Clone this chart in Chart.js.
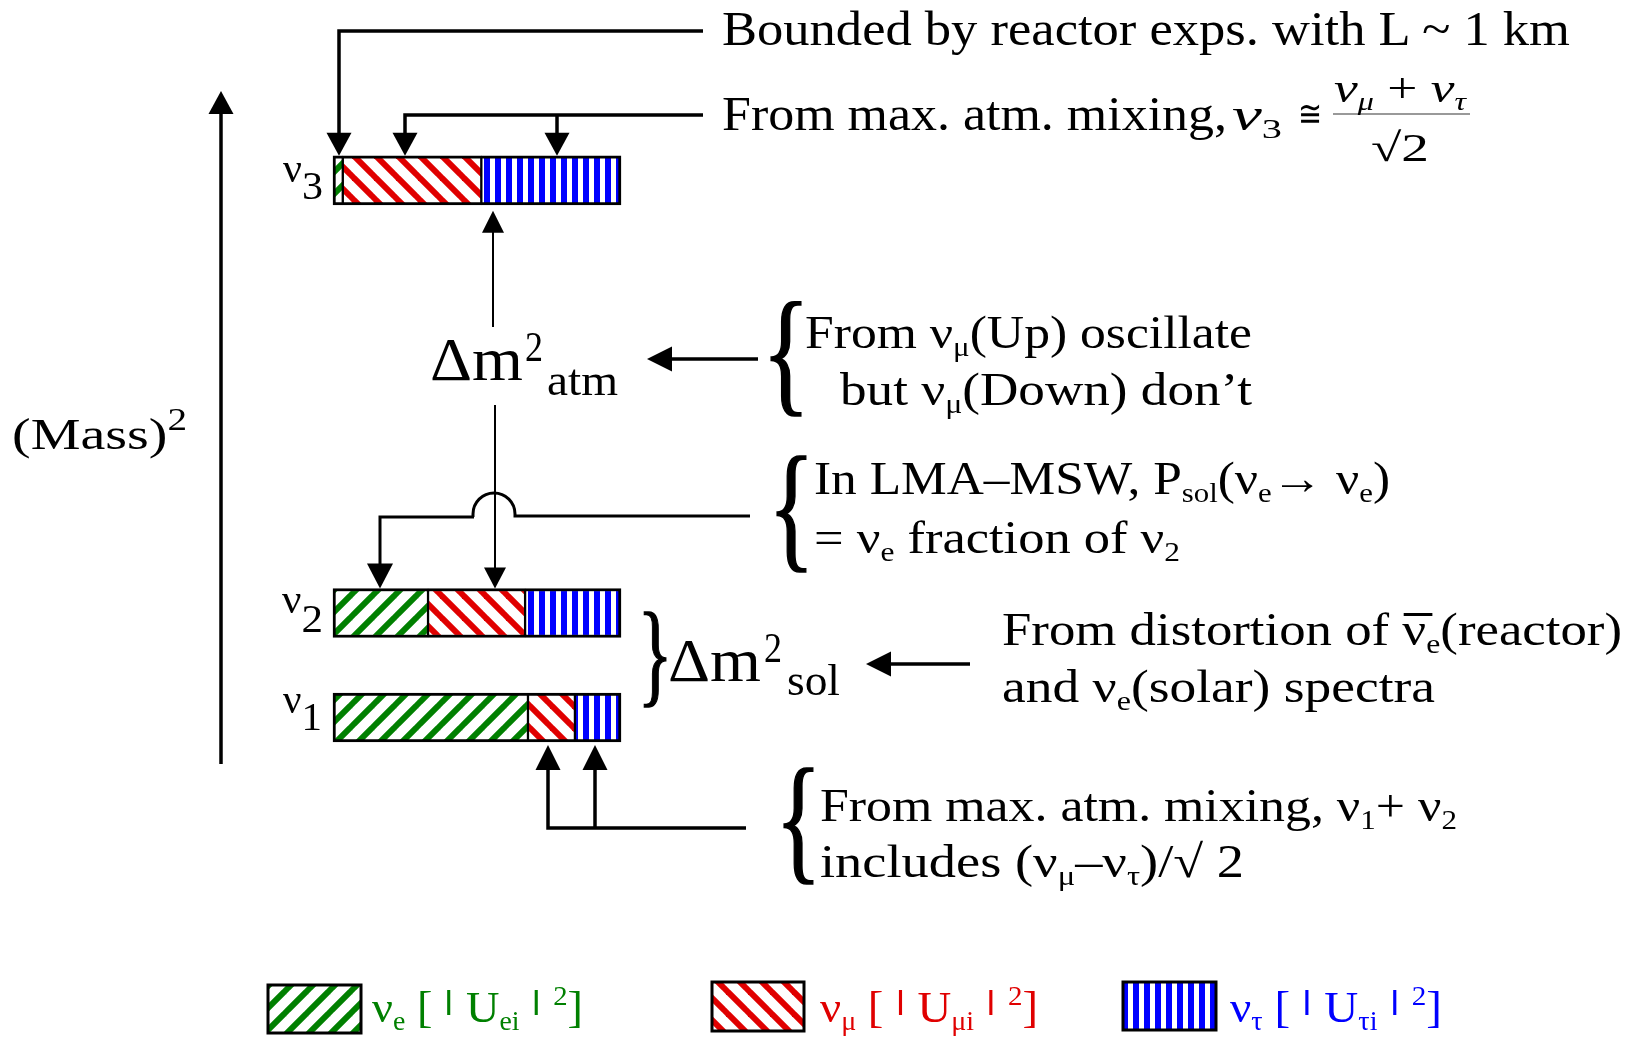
<!DOCTYPE html>
<html>
<head>
<meta charset="utf-8">
<script src="https://cdn.jsdelivr.net/npm/chart.js@4"></script>
<style>
  body { margin: 0; background: #fff; }
  #wrap { position: relative; width: 1630px; height: 1040px; overflow: hidden; }
  #chart { position: absolute; left: 0; top: 0; }
  .t { position: absolute; left: 0; top: 0; white-space: nowrap; line-height: 1;
       font-family: "Liberation Serif", serif; color: #000; transform-origin: 0 0; }
  .s { font-size: 0.6em; position: relative; top: 0.3em; }
  .p { font-size: 0.62em; position: relative; top: -0.62em; }
  .vb { display: inline-block; width: 3px; height: 0.56em; vertical-align: 0.16em;
        background: currentColor; margin: 0 0.08em; }
  .i { font-style: italic; }
  .ov { position: relative; }
  .ov::before { content: ''; position: absolute; left: 0.02em; right: -0.12em; top: 0.2em;
                border-top: 3px solid #000; }
  .bl { display: inline-block; width: 0; height: 0; }
  .g { color: #008000; } .r { color: #e00000; } .b { color: #0000ff; }
</style>
</head>
<body>
<div id="wrap">
  <canvas id="chart" width="1630" height="1040"></canvas>

  <!-- top notes -->
  <div class="t" data-x="722" data-b="45" data-w="848" style="font-size:48px">Bounded by reactor exps. with L ~ 1 km</div>
  <div class="t" data-x="722" data-b="130" data-w="505" style="font-size:48px">From max. atm. mixing,</div>
  <div class="t i" data-x="1232" data-b="130" data-w="50" style="font-size:46px">ν<span class="s" style="font-style:normal">3</span></div>
  <div class="t" data-x="1298" data-b="126" data-w="24" style="font-size:36px">≅</div>
  <div class="t i" data-x="1334" data-b="102" data-w="132" style="font-size:42px">ν<span class="s">μ</span> <span style="font-style:normal">+</span> ν<span class="s">τ</span></div>
  <div class="t" data-x="1371" data-b="161" data-w="58" style="font-size:40px">√2</div>

  <!-- axis label and state labels -->
  <div class="t" data-x="12" data-b="449" data-w="175" style="font-size:44px">(Mass)<span class="p" style="font-size:0.7em">2</span></div>
  <div class="t" data-x="283" data-b="182" data-w="40" style="font-size:41px">ν<span style="position:relative;top:17px">3</span></div>
  <div class="t" data-x="282" data-b="613" data-w="41" style="font-size:41px">ν<span style="position:relative;top:19px">2</span></div>
  <div class="t" data-x="283" data-b="713" data-w="39" style="font-size:41px">ν<span style="position:relative;top:17px">1</span></div>

  <!-- atmospheric splitting -->
  <div class="t" data-x="430" data-b="380" data-w="93" style="font-size:62px">Δm</div>
  <div class="t" data-x="525" data-b="361" data-w="18" style="font-size:42px">2</div>
  <div class="t" data-x="547" data-b="395" data-w="71" style="font-size:44px">atm</div>
  <div class="t" data-x="805" data-b="348" data-w="447" style="font-size:46px">From ν<span class="s">μ</span>(Up) oscillate</div>
  <div class="t" data-x="840" data-b="405" data-w="412" style="font-size:46px">but ν<span class="s">μ</span>(Down) don’t</div>

  <div class="t" data-x="814" data-b="494" data-w="576" style="font-size:46px">In LMA–MSW, P<span class="s">sol</span>(ν<span class="s">e</span>→ ν<span class="s">e</span>)</div>
  <div class="t" data-x="814" data-b="553" data-w="366" style="font-size:46px">= ν<span class="s">e</span> fraction of ν<span class="s">2</span></div>

  <!-- solar splitting -->
  <div class="t" data-x="668" data-b="681" data-w="93" style="font-size:62px">Δm</div>
  <div class="t" data-x="764" data-b="662" data-w="18" style="font-size:42px">2</div>
  <div class="t" data-x="787" data-b="695" data-w="53" style="font-size:44px">sol</div>
  <div class="t" data-x="1002" data-b="645" data-w="620" style="font-size:46px">From distortion of <span class="ov">ν</span><span class="s">e</span>(reactor)</div>
  <div class="t" data-x="1002" data-b="702" data-w="433" style="font-size:46px">and ν<span class="s">e</span>(solar) spectra</div>

  <div class="t" data-x="820" data-b="821" data-w="637" style="font-size:46px">From max. atm. mixing, ν<span class="s">1</span>+ ν<span class="s">2</span></div>
  <div class="t" data-x="820" data-b="877" data-w="424" style="font-size:46px">includes (ν<span class="s">μ</span>–ν<span class="s">τ</span>)/√ 2</div>

  <!-- legend texts -->
  <div class="t g" data-x="372" data-b="1022" data-w="211" style="font-size:45px">ν<span class="s">e</span> [ <span class="vb"></span> U<span class="s">ei</span> <span class="vb"></span> <span class="p">2</span>]</div>
  <div class="t r" data-x="820" data-b="1022" data-w="218" style="font-size:45px">ν<span class="s">μ</span> [ <span class="vb"></span> U<span class="s">μi</span> <span class="vb"></span> <span class="p">2</span>]</div>
  <div class="t b" data-x="1230" data-b="1022" data-w="212" style="font-size:45px">ν<span class="s">τ</span> [ <span class="vb"></span> U<span class="s">τi</span> <span class="vb"></span> <span class="p">2</span>]</div>
</div>

<script>
// mass eigenstates, from top to bottom, and their (relative) mass-squared level
const states = ['ν3', 'ν2', 'ν1'];
const massSquared = [5.14, 1, 0];

// flavour content |U|^2 of each state
const fracE = [0.034, 0.33, 0.677];
const fracMu = [0.481, 0.337, 0.163];
const fracTau = [0.485, 0.333, 0.16];

const flavours = ['νe [|Uei|²]', 'νμ [|Uμi|²]', 'ντ [|Uτi|²]'];

const GREEN = '#008000', RED = '#e00000', BLUE = '#0000ff';

// hatch patterns
function diagPattern(color, forward) {
  const n = 22;
  const c = document.createElement('canvas');
  c.width = n; c.height = n;
  const g = c.getContext('2d');
  g.fillStyle = '#fff';
  g.fillRect(0, 0, n, n);
  g.strokeStyle = color;
  g.lineWidth = 6;
  for (let k = -1; k <= 1; k++) {
    g.beginPath();
    if (forward) {
      g.moveTo(k * n - 2, n + 2);
      g.lineTo(k * n + n + 2, -2);
    } else {
      g.moveTo(k * n - 2, -2);
      g.lineTo(k * n + n + 2, n + 2);
    }
    g.stroke();
  }
  return g.createPattern(c, 'repeat');
}

function vertPattern(color) {
  const c = document.createElement('canvas');
  c.width = 11; c.height = 11;
  const g = c.getContext('2d');
  g.fillStyle = '#fff';
  g.fillRect(0, 0, 11, 11);
  g.fillStyle = color;
  g.fillRect(0, 0, 6, 11);
  return g.createPattern(c, 'repeat');
}

const patE = diagPattern(GREEN, true);
const patMu = diagPattern(RED, false);
const patTau = vertPattern(BLUE);

function toPoints(fr) {
  return states.map((s, i) => ({ x: fr[i], y: massSquared[i] }));
}

// --- drawing helpers for the annotations ---
function arrowPath(g, pts, lw, len, half) {
  const n = pts.length;
  const [tx, ty] = pts[n - 1];
  const [px, py] = pts[n - 2];
  const d = Math.hypot(tx - px, ty - py);
  const ux = (tx - px) / d, uy = (ty - py) / d;
  const bx = tx - ux * len, by = ty - uy * len;
  g.lineWidth = lw;
  g.beginPath();
  g.moveTo(pts[0][0], pts[0][1]);
  for (let i = 1; i < n - 1; i++) g.lineTo(pts[i][0], pts[i][1]);
  g.lineTo(bx + ux, by + uy);
  g.stroke();
  g.beginPath();
  g.moveTo(tx, ty);
  g.lineTo(bx - uy * half, by + ux * half);
  g.lineTo(bx + uy * half, by - ux * half);
  g.closePath();
  g.fill();
}

function glyphBox(g, ch, x, y, w, h) {
  g.save();
  g.font = '200px "Liberation Serif"';
  const m = g.measureText(ch);
  const iw = m.actualBoundingBoxLeft + m.actualBoundingBoxRight;
  const ih = m.actualBoundingBoxAscent + m.actualBoundingBoxDescent;
  g.translate(x, y);
  g.scale(w / iw, h / ih);
  g.textAlign = 'left';
  g.textBaseline = 'alphabetic';
  g.lineWidth = 2.5;
  g.fillText(ch, m.actualBoundingBoxLeft, m.actualBoundingBoxAscent);
  g.strokeText(ch, m.actualBoundingBoxLeft, m.actualBoundingBoxAscent);
  g.restore();
}

const annotations = {
  id: 'annotations',
  afterDraw(chart) {
    const g = chart.ctx;
    const ys = chart.scales.y;
    const half = 24.5;
    const top = i => ys.getPixelForValue(massSquared[i]) - half;
    const bot = i => ys.getPixelForValue(massSquared[i]) + half;

    g.save();
    g.fillStyle = '#000';
    g.strokeStyle = '#000';
    g.lineJoin = 'miter';
    g.lineCap = 'butt';

    // (Mass)^2 axis
    arrowPath(g, [[221, 764], [221, 91]], 3.5, 23, 12.5);

    // reactor bound on nu_e in nu3
    arrowPath(g, [[703, 31], [339, 31], [339, top(0)]], 3.5, 23, 12.5);
    // max atm mixing for nu3
    arrowPath(g, [[703, 115], [405, 115], [405, top(0)]], 3.5, 23, 12.5);
    arrowPath(g, [[557, 115], [557, top(0)]], 3.5, 23, 12.5);

    // fraction bar
    g.save();
    g.strokeStyle = '#777';
    g.lineWidth = 1.5;
    g.beginPath(); g.moveTo(1333, 114); g.lineTo(1470, 114); g.stroke();
    g.restore();

    // Delta m^2 atm arrows
    arrowPath(g, [[493, 327], [493, bot(0) + 6]], 2, 22, 11);
    arrowPath(g, [[495, 405], [495, top(1)]], 2, 21, 11);
    arrowPath(g, [[758, 359], [647, 359]], 3.5, 25, 12.5);

    // LMA line with jump over the atm arrow
    g.lineWidth = 3;
    g.beginPath();
    g.moveTo(750, 516);
    g.lineTo(515, 516);
    g.arc(494, 514, 21, 0, Math.PI, true);
    g.lineTo(473, 517);
    g.stroke();
    arrowPath(g, [[474, 517], [380, 517], [380, top(1)]], 3, 25, 13);

    // Delta m^2 sol arrow
    arrowPath(g, [[970, 664], [866, 664]], 3.5, 25, 12.5);

    // bottom arrows into nu1 mu / tau parts
    arrowPath(g, [[746, 828], [548, 828], [548, bot(2) + 3]], 3.5, 25, 12.5);
    arrowPath(g, [[595, 828], [595, bot(2) + 3]], 3.5, 25, 12.5);

    // braces
    glyphBox(g, '{', 771, 303, 30, 114);
    glyphBox(g, '{', 777, 457, 29, 115);
    glyphBox(g, '}', 644, 613, 22, 94);
    glyphBox(g, '{', 784, 769, 29, 115);

    // legend swatches
    const sw = [[268, 985, 93, 48], [712, 982, 92, 49], [1123, 982, 93, 48]];
    chart.data.datasets.forEach((ds, i) => {
      const [x, y, w, h] = sw[i];
      g.fillStyle = ds.backgroundColor;
      g.fillRect(x, y, w, h);
      g.lineWidth = 3;
      g.strokeStyle = '#000';
      g.strokeRect(x, y, w, h);
    });
    g.restore();
  }
};

new Chart(document.getElementById('chart'), {
  type: 'bar',
  data: {
    datasets: [
      { label: flavours[0], data: toPoints(fracE), backgroundColor: patE,
        borderWidth: { top: 3, bottom: 3, left: 3, right: 1.5 } },
      { label: flavours[1], data: toPoints(fracMu), backgroundColor: patMu,
        borderWidth: { top: 3, bottom: 3, left: 1.5, right: 1.5 } },
      { label: flavours[2], data: toPoints(fracTau), backgroundColor: patTau,
        borderWidth: { top: 3, bottom: 3, left: 1.5, right: 3 } }
    ]
  },
  options: {
    indexAxis: 'y',
    responsive: false,
    animation: false,
    devicePixelRatio: 1,
    layout: { padding: 0 },
    datasets: { bar: { barThickness: 49, borderColor: '#000', borderSkipped: false } },
    plugins: { legend: { display: false }, tooltip: { enabled: false } },
    scales: {
      x: { type: 'linear', stacked: true, offset: false, min: -1.15625, max: 4.50347, display: false },
      y: { type: 'linear', stacked: true, offset: false, min: -3.086, max: 6.866, display: false,
           grid: { offset: false } }
    }
  },
  plugins: [annotations]
});

// put each text on its baseline and stretch it to the measured width
document.querySelectorAll('.t').forEach(el => {
  const mk = document.createElement('span');
  mk.className = 'bl';
  el.appendChild(mk);
  el.style.left = el.dataset.x + 'px';
  el.style.top = '0px';
  const er = el.getBoundingClientRect();
  const mr = mk.getBoundingClientRect();
  el.style.top = (+el.dataset.b - (mr.bottom - er.top)) + 'px';
  if (el.dataset.w) el.style.transform = `scaleX(${(+el.dataset.w / er.width).toFixed(4)})`;
});
</script>
</body>
</html>
